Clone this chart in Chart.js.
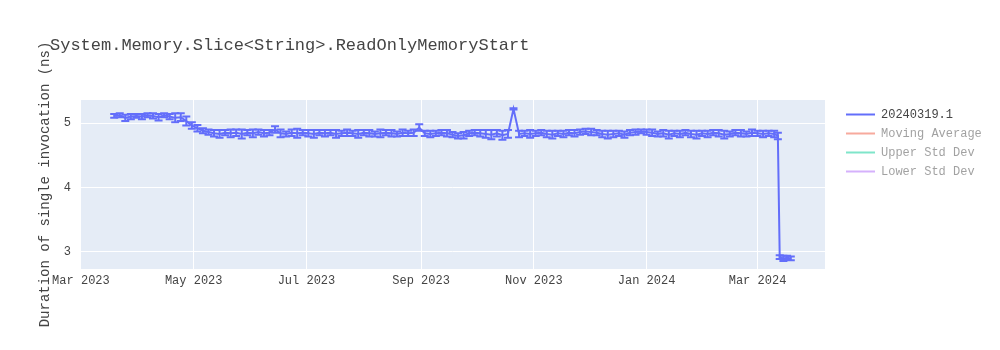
<!DOCTYPE html>
<html>
<head>
<meta charset="utf-8">
<script src="https://cdn.jsdelivr.net/npm/chart.js@4.4.1/dist/chart.umd.min.js"></script>
<style>
  body { margin: 0; background: #fff; }
</style>
</head>
<body>
<canvas id="benchChart" width="1000" height="350"></canvas>
<script>
// run dates, as days since 2023-03-01
const runDays = [
  18, 21, 24, 27, 30, 33, 36, 39, 42, 45, 48, 51, 54, 57, 60, 63, 66, 69, 72, 75,
  78, 81, 84, 87, 90, 93, 96, 99, 102, 105, 108, 111, 114, 117, 120, 123, 126, 129, 132, 135,
  138, 141, 144, 147, 150, 153, 156, 159, 162, 165, 168, 171, 174, 177, 180, 183, 186, 189, 192, 195,
  198, 201, 204, 207, 210, 213, 216, 219, 222, 225, 228, 231, 234, 237, 240, 243, 246, 249, 252, 255,
  258, 261, 264, 267, 270, 273, 276, 279, 282, 285, 288, 291, 294, 297, 300, 303, 306, 309, 312, 315,
  318, 321, 324, 327, 330, 333, 336, 339, 342, 345, 348, 351, 354, 357, 360, 363, 366, 369, 372, 375,
  377, 378, 380, 382, 384
];
// mean duration (ns)
const runValues = [
  5.11, 5.12, 5.08, 5.10, 5.11, 5.10, 5.12, 5.11, 5.09, 5.12, 5.10, 5.08, 5.09, 5.03, 4.96, 4.92, 4.88, 4.86, 4.84, 4.83,
  4.85, 4.84, 4.85, 4.83, 4.85, 4.84, 4.86, 4.84, 4.85, 4.90, 4.84, 4.83, 4.85, 4.84, 4.85, 4.84, 4.83, 4.85, 4.84, 4.85,
  4.83, 4.84, 4.85, 4.84, 4.83, 4.85, 4.84, 4.83, 4.84, 4.85, 4.84, 4.83, 4.85, 4.84, 4.85, 4.93, 4.84, 4.83, 4.84, 4.85,
  4.84, 4.82, 4.80, 4.81, 4.84, 4.85, 4.84, 4.83, 4.82, 4.84, 4.81, 4.83, 5.22, 4.83, 4.84, 4.83, 4.84, 4.85, 4.83, 4.82,
  4.84, 4.83, 4.85, 4.84, 4.86, 4.87, 4.86, 4.85, 4.83, 4.82, 4.83, 4.84, 4.82, 4.85, 4.86, 4.87, 4.86, 4.85, 4.83, 4.84,
  4.82, 4.84, 4.83, 4.85, 4.83, 4.82, 4.84, 4.83, 4.85, 4.84, 4.82, 4.83, 4.85, 4.84, 4.83, 4.85, 4.84, 4.83, 4.84, 4.83,
  4.80, 2.92, 2.90, 2.91, 2.90
];
// error (+/-, ns)
const runErrors = [
  0.03, 0.03, 0.05, 0.04, 0.03, 0.04, 0.03, 0.04, 0.05, 0.03, 0.04, 0.07, 0.06, 0.07, 0.05, 0.05, 0.04, 0.04, 0.05, 0.06,
  0.04, 0.06, 0.05, 0.07, 0.04, 0.06, 0.04, 0.05, 0.04, 0.05, 0.06, 0.04, 0.05, 0.07, 0.04, 0.05, 0.06, 0.04, 0.05, 0.04,
  0.06, 0.04, 0.05, 0.04, 0.06, 0.04, 0.05, 0.04, 0.06, 0.04, 0.05, 0.04, 0.05, 0.04, 0.05, 0.05, 0.04, 0.05, 0.04, 0.04,
  0.05, 0.04, 0.04, 0.05, 0.04, 0.04, 0.05, 0.06, 0.07, 0.05, 0.07, 0.06, 0.01, 0.05, 0.04, 0.06, 0.04, 0.04, 0.05, 0.06,
  0.04, 0.05, 0.04, 0.05, 0.04, 0.04, 0.05, 0.04, 0.05, 0.06, 0.05, 0.04, 0.05, 0.04, 0.04, 0.03, 0.04, 0.05, 0.04, 0.05,
  0.06, 0.04, 0.05, 0.04, 0.05, 0.06, 0.04, 0.05, 0.04, 0.05, 0.06, 0.04, 0.04, 0.05, 0.04, 0.05, 0.04, 0.05, 0.04, 0.05,
  0.05, 0.03, 0.04, 0.03, 0.03
];

const tickDays = [0, 61, 122, 184, 245, 306, 366];
const tickLabels = ['Mar 2023', 'May 2023', 'Jul 2023', 'Sep 2023', 'Nov 2023', 'Jan 2024', 'Mar 2024'];
const yTicks = [3, 4, 5];

const seriesNames = ['20240319.1', 'Moving Average', 'Upper Std Dev', 'Lower Std Dev'];
const seriesColors = ['#636efa', '#EF553B', '#00cc96', '#ab63fa'];
const chartTitle = 'System.Memory.Slice<String>.ReadOnlyMemoryStart';
const yTitle = 'Duration of single invocation (ns)';

const monoFont = '"Liberation Mono", "Courier New", monospace';

// plot area background
const plotBackground = {
  id: 'plotBackground',
  beforeDraw(chart) {
    const { ctx, chartArea: a } = chart;
    ctx.save();
    ctx.fillStyle = '#E5ECF6';
    ctx.fillRect(a.left, a.top, a.right - a.left, a.bottom - a.top);
    ctx.restore();
  }
};

// error bars with caps on the main series
const errorBars = {
  id: 'errorBars',
  afterDatasetsDraw(chart) {
    const { ctx, chartArea: a, scales: { y } } = chart;
    const meta = chart.getDatasetMeta(0);
    ctx.save();
    ctx.beginPath();
    ctx.rect(a.left, a.top, a.right - a.left, a.bottom - a.top);
    ctx.clip();
    ctx.strokeStyle = seriesColors[0];
    ctx.lineWidth = 2;
    meta.data.forEach((pt, i) => {
      const yHi = y.getPixelForValue(runValues[i] + runErrors[i]);
      const yLo = y.getPixelForValue(runValues[i] - runErrors[i]);
      ctx.beginPath();
      ctx.moveTo(pt.x, yHi);
      ctx.lineTo(pt.x, yLo);
      ctx.moveTo(pt.x - 4, yHi);
      ctx.lineTo(pt.x + 4, yHi);
      ctx.moveTo(pt.x - 4, yLo);
      ctx.lineTo(pt.x + 4, yLo);
      ctx.stroke();
    });
    ctx.restore();
  }
};

// title and plotly-like legend (hidden traces faded)
const titleAndLegend = {
  id: 'titleAndLegend',
  afterDraw(chart) {
    const ctx = chart.ctx;
    ctx.save();
    ctx.fillStyle = '#444';
    ctx.font = '17px ' + monoFont;
    ctx.textBaseline = 'middle';
    ctx.textAlign = 'left';
    ctx.fillText(chartTitle, 50, 45);

    ctx.font = '12px ' + monoFont;
    chart.data.datasets.forEach((ds, i) => {
      const rowY = 114.5 + i * 19;
      ctx.globalAlpha = ds.hidden ? 0.5 : 1;
      ctx.strokeStyle = ds.borderColor;
      ctx.lineWidth = 2;
      ctx.beginPath();
      ctx.moveTo(846, rowY);
      ctx.lineTo(875, rowY);
      ctx.stroke();
      ctx.fillStyle = '#444';
      ctx.fillText(ds.label, 881, rowY);
    });
    ctx.restore();
  }
};

const ctx = document.getElementById('benchChart').getContext('2d');
new Chart(ctx, {
  type: 'line',
  data: {
    datasets: [
      {
        label: seriesNames[0],
        data: runDays.map((d, i) => ({ x: d, y: runValues[i] })),
        borderColor: seriesColors[0],
        borderWidth: 2,
        pointRadius: 0,
        tension: 0
      },
      { label: seriesNames[1], data: [], borderColor: seriesColors[1], hidden: true },
      { label: seriesNames[2], data: [], borderColor: seriesColors[2], hidden: true },
      { label: seriesNames[3], data: [], borderColor: seriesColors[3], hidden: true }
    ]
  },
  options: {
    responsive: false,
    animation: false,
    devicePixelRatio: 1,
    layout: { padding: { top: 100, right: 175, left: 0, bottom: 0 } },
    plugins: {
      legend: { display: false },
      title: { display: false },
      tooltip: { enabled: false }
    },
    scales: {
      x: {
        type: 'linear',
        min: -0.5,
        max: 402.5,
        afterBuildTicks: (scale) => {
          scale.ticks = tickDays.map(v => ({ value: v }));
        },
        afterFit: (scale) => { scale.height = 81; },
        grid: { color: '#ffffff', lineWidth: 1, drawTicks: false },
        border: { display: false },
        ticks: {
          padding: 5,
          maxRotation: 0,
          autoSkip: false,
          color: '#444',
          font: { family: monoFont, size: 12 },
          callback: (value) => tickLabels[tickDays.indexOf(value)]
        }
      },
      y: {
        min: 2.736,
        max: 5.357,
        afterBuildTicks: (scale) => {
          scale.ticks = yTicks.map(v => ({ value: v }));
        },
        afterFit: (scale) => { scale.width = 80; },
        grid: { color: '#ffffff', lineWidth: 1, drawTicks: false },
        border: { display: false },
        ticks: {
          padding: 9,
          color: '#444',
          font: { family: monoFont, size: 12 }
        },
        title: {
          display: true,
          text: yTitle,
          color: '#444',
          font: { family: monoFont, size: 14 },
          padding: { top: 36.6, bottom: 0 }
        }
      }
    }
  },
  plugins: [plotBackground, errorBars, titleAndLegend]
});
</script>
</body>
</html>
